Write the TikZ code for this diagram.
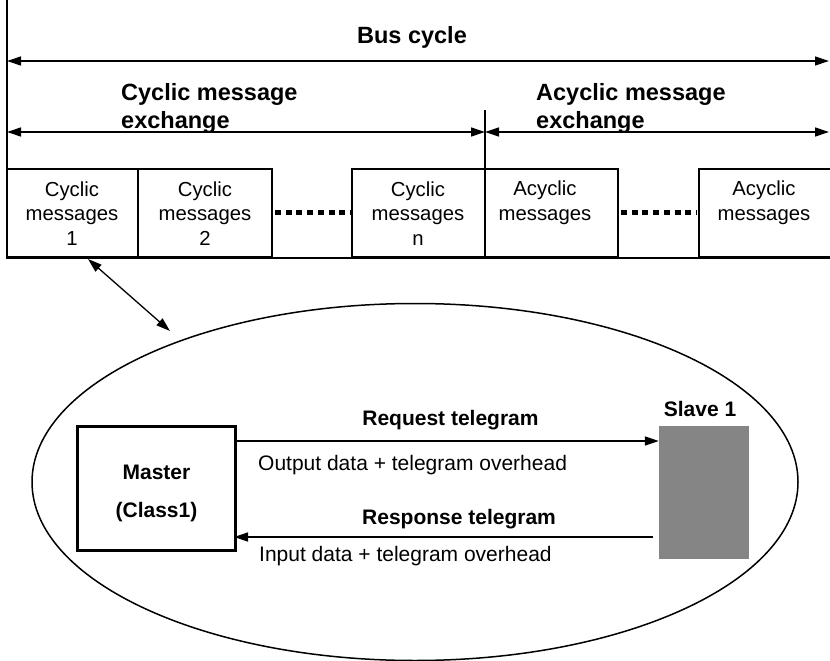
\documentclass[tikz,border=0pt]{standalone}
\usepackage{fontspec}
\setmainfont{Liberation Sans}
\usetikzlibrary{arrows.meta,shapes.geometric}
\tikzset{
  thin line/.style={line width=1.3pt},
  tip/.style={-{Triangle[length=14pt,width=9pt]}},
  dtip/.style={{Triangle[length=14pt,width=9pt]}-{Triangle[length=14pt,width=9pt]}},
  heading/.style={font=\fontsize{23.5}{28}\selectfont\bfseries, inner sep=0pt, align=left},
  boxtext/.style={font=\fontsize{20.3}{24.5}\selectfont, inner sep=0pt, align=center},
  msgbox/.style={draw, line width=1.3pt, minimum height=88pt, inner sep=0pt},
  lbl/.style={font=\fontsize{21}{25}\selectfont, inner sep=0pt},
  blbl/.style={font=\fontsize{21}{25}\selectfont\bfseries, inner sep=0pt},
}
\begin{document}
\begin{tikzpicture}[x=1pt,y=-1pt]
\useasboundingbox (0,0) rectangle (830,661);

% top structure
\coordinate (vtop) at (7,0);
\coordinate (vbot) at (7,176);
\coordinate (mtop) at (485,110);
\coordinate (mbot) at (485,177);
\coordinate (busL) at (7,61);
\coordinate (busR) at (829,61);
\coordinate (cycL) at (7,132);
\coordinate (cycR) at (485,132);
\coordinate (acyR) at (829,132);

\node[heading, anchor=base] (busT) at (412,43.3) {Bus cycle};
\node[heading, anchor=base west] (cycT) at (121,128.3) {Cyclic message\\exchange};
\node[heading, anchor=base west] (acyT) at (536,128.3) {Acyclic message\\exchange};

\draw[thin line, dtip] (busL) -- (busR);
\draw[thin line, dtip] (cycL) -- (cycR);
\draw[thin line, dtip] (cycR) -- (acyR);

% message boxes
\node[msgbox, minimum width=131pt] (b1) at (72.5,213) {};
\node[msgbox, minimum width=134pt] (b2) at (205,213) {};
\node[msgbox, minimum width=133pt] (bn) at (418.5,213) {};
\node[msgbox, minimum width=133pt] (a1) at (551.5,213) {};
\node[msgbox, minimum width=134pt] (a2) at (766,213) {};

\node[boxtext, anchor=base] (t1) at (72,245) {Cyclic\\messages\\1};
\node[boxtext, anchor=base] (t2) at (205,245) {Cyclic\\messages\\2};
\node[boxtext, anchor=base] (tn) at (418,245) {Cyclic\\messages\\n};
\node[boxtext, anchor=base] (ta1) at (545,220) {Acyclic\\messages};
\node[boxtext, anchor=base] (ta2) at (764,220) {Acyclic\\messages};

\draw[line width=2pt] (b1.south west) -- (a2.south east);
\draw[line width=2.5pt] (vtop) -- (vbot);
\draw[line width=2.5pt] (mtop) -- (mbot);

\coordinate (d1a) at (275,212);
\coordinate (d1b) at (350,212);
\coordinate (d2a) at (621,212);
\coordinate (d2b) at (697,212);
\draw[line width=5pt, dash pattern=on 6pt off 4.7pt] (d1a) -- (d1b);
\draw[line width=5pt, dash pattern=on 6pt off 4.7pt] (d2a) -- (d2b);

% zoom ellipse
\node[draw, ellipse, line width=1.5pt, minimum width=766pt, minimum height=357pt, inner sep=0pt] (zoom) at (415,482) {};
\coordinate (za) at (88,259);
\coordinate (zb) at (170,331);
\draw[thin line, dtip] (za) -- (zb);

% master and slave
\node[draw, line width=3pt, minimum width=158pt, minimum height=124pt, inner sep=0pt] (master) at (156.5,488.5) {};
\node[blbl, anchor=base, align=center, font=\fontsize{21}{38}\selectfont\bfseries] (mT) at (156.5,517) {Master\\(Class1)};
\node[fill=black!48, minimum width=90pt, minimum height=133pt, inner sep=0pt] (slave) at (704,492.5) {};
\node[blbl, anchor=base] (sT) at (700,416.7) {Slave 1};

\draw[thin line, tip] (master.east |- 0,441) -- (slave.west |- 0,441);
\draw[thin line, tip, shorten <=6pt] (slave.west |- 0,537) -- ([xshift=-3pt]master.east |- 0,537);

\node[blbl, anchor=base] (reqT) at (450.5,425.7) {Request telegram};
\node[lbl, anchor=base west] (outT) at (258,470) {Output data + telegram overhead};
\node[blbl, anchor=base west] (resT) at (362,524) {Response telegram};
\node[lbl, anchor=base west] (inT) at (259,561.7) {Input data + telegram overhead};
\end{tikzpicture}
\end{document}
